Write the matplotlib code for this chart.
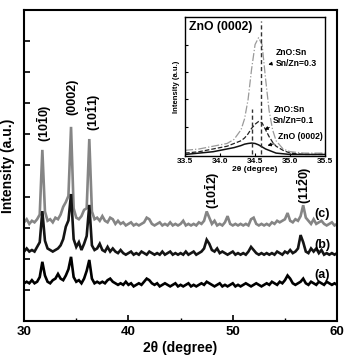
import numpy as np
import matplotlib
matplotlib.use("Agg")
from matplotlib import pyplot as plt

plt.rcParams['font.family'] = ['Liberation Sans', 'DejaVu Sans']
plt.rcParams['font.weight'] = 'bold'
plt.rcParams['mathtext.fontset'] = 'custom'
plt.rcParams['mathtext.rm'] = 'Liberation Sans:bold'
plt.rcParams['mathtext.bf'] = 'Liberation Sans:bold'
plt.rcParams['mathtext.default'] = 'bf'

# main XRD patterns, 2theta from 30 to 60 in 0.25 deg steps (intensity above each baseline)
two_theta = np.arange(30.0, 60.001, 0.25)
pattern_c = [1.5, 2.5, 1.0, 2.0, 1.5, 2.5, 4.0, 24.8, 5.0, 2.0,
             2.5, 1.5, 3.0, 2.5, 4.0, 6.5, 8.0, 10.0, 32.2, 6.0,
             3.0, 2.5, 3.5, 5.5, 6.0, 28.3, 5.0, 2.5, 3.0, 2.0,
             3.5, 2.0, 1.5, 3.0, 2.5, 1.0, 2.0, 1.0, 1.5, 0.5,
             1.0, 1.5, 0.5, 1.0, 0.5, 1.0, 1.5, 3.0, 2.5, 1.0,
             0.5, 1.0, 1.5, 0.5, 1.0, 0.5, 1.5, 0.5, 1.0, 0.5,
             1.0, 2.0, 0.5, 1.0, 0.5, 1.0, 0.5, 1.5, 1.0, 2.0,
             5.0, 3.0, 1.0, 2.0, 0.5, 1.0, 0.5, 1.5, 3.5, 1.0,
             0.5, 1.0, 0.5, 1.0, 0.5, 1.0, 0.5, 2.5, 3.0, 1.0,
             0.5, 1.0, 0.5, 1.0, 0.5, 1.5, 1.0, 2.0, 1.5, 2.0,
             2.5, 4.5, 2.0, 1.5, 2.5, 2.0, 3.5, 7.0, 3.0, 2.0,
             1.0, 2.5, 1.0, 1.5, 2.0, 1.0, 0.5, 1.0, 1.5, 0.5,
             1.0]
pattern_b = [2.0, 3.0, 2.0, 2.5, 2.0, 3.5, 5.0, 15.0, 5.5, 3.0,
             2.5, 2.0, 2.5, 3.0, 4.0, 6.0, 10.0, 12.0, 20.5, 6.0,
             3.5, 5.0, 2.5, 4.5, 7.0, 17.0, 4.0, 2.5, 3.0, 4.5,
             2.5, 2.0, 3.5, 2.0, 3.0, 2.0, 1.5, 2.5, 1.5, 1.0,
             1.5, 2.0, 1.0, 1.5, 1.0, 2.0, 1.5, 1.0, 2.0, 1.5,
             1.0, 1.5, 1.0, 2.0, 1.0, 1.5, 2.0, 1.0, 1.5, 1.0,
             1.5, 1.0, 2.0, 1.0, 1.5, 2.0, 1.0, 1.5, 2.0, 3.0,
             5.8, 4.5, 2.5, 2.0, 3.0, 1.5, 2.0, 1.5, 1.0, 1.5,
             2.0, 1.0, 1.5, 1.0, 1.5, 1.0, 2.0, 3.5, 2.5, 1.5,
             1.0, 1.5, 1.0, 1.5, 1.0, 1.5, 1.0, 2.0, 1.5, 1.0,
             2.0, 1.5, 2.5, 1.5, 2.0, 3.0, 7.3, 5.0, 2.0, 1.5,
             3.0, 2.0, 3.0, 1.5, 2.5, 1.0, 1.5, 1.0, 1.5, 1.0,
             1.5]
pattern_a = [1.5, 2.0, 1.5, 2.5, 1.5, 2.0, 3.5, 8.4, 4.0, 2.0,
             1.5, 2.5, 3.0, 4.5, 3.0, 2.5, 4.0, 6.0, 10.0, 3.5,
             2.0, 2.5, 1.5, 3.0, 5.5, 9.0, 3.0, 1.5, 2.0, 1.5,
             2.0, 1.5, 2.5, 3.0, 2.0, 1.5, 1.0, 1.5, 1.0, 2.0,
             1.0, 1.5, 0.5, 1.0, 1.5, 1.0, 2.0, 3.0, 2.5, 1.5,
             1.0, 1.5, 0.5, 1.0, 1.5, 1.0, 0.5, 1.0, 1.5, 0.5,
             1.0, 0.5, 1.0, 1.5, 0.5, 1.0, 0.5, 1.0, 1.5, 1.0,
             2.0, 1.5, 1.0, 0.5, 1.0, 1.5, 0.5, 1.0, 0.5, 1.0,
             1.5, 0.5, 1.0, 0.5, 1.0, 1.5, 1.0, 0.5, 1.0, 1.5,
             1.0, 0.5, 1.0, 1.5, 1.0, 2.0, 1.5, 1.0, 2.0, 1.5,
             2.5, 4.0, 3.0, 1.5, 1.0, 1.5, 2.0, 3.0, 1.5, 1.0,
             2.0, 1.5, 1.0, 2.0, 1.5, 1.0, 2.0, 1.5, 1.0, 1.5,
             1.0]
offsets = {"a": 10.6, "b": 20.3, "c": 30.2}

peak_labels = [r"(10$\bar{1}$0)", "(0002)", r"(10$\bar{1}$1)", r"(10$\bar{1}$2)", r"(11$\bar{2}$0)"]
peak_label_pos = [(32.0, 63.7), (34.6, 72.0), (36.7, 67.0), (48.1, 42.0), (56.9, 43.5)]

# inset: ZnO (0002) peak region
inset_x = [33.5, 33.7, 33.9, 34.0, 34.1, 34.2, 34.3, 34.35, 34.4, 34.45, 34.5,
           34.55, 34.6, 34.65, 34.7, 34.75, 34.8, 34.9, 35.0, 35.2, 35.5]
inset_sn03 = [0.03, 0.04, 0.06, 0.07, 0.08, 0.11, 0.18, 0.26, 0.40, 0.62, 0.80,
              0.85, 0.80, 0.55, 0.32, 0.18, 0.10, 0.04, 0.02, 0.01, 0.01]
inset_sn01 = [0.01, 0.02, 0.04, 0.05, 0.06, 0.08, 0.10, 0.12, 0.15, 0.19, 0.22,
              0.24, 0.23, 0.18, 0.13, 0.09, 0.06, 0.03, 0.01, 0.0, 0.0]
inset_zno = [0.0, 0.01, 0.02, 0.03, 0.04, 0.05, 0.065, 0.075, 0.08, 0.083, 0.08,
             0.07, 0.055, 0.04, 0.03, 0.02, 0.01, 0.005, 0.0, 0.0, 0.0]
ref_lines = [(34.45, 0.33), (34.59, 0.97)]

fig = plt.figure(figsize=(3.44, 3.55), dpi=100)
ax = fig.add_axes([0.07, 0.096, 0.91, 0.876])

ax.plot(two_theta, np.array(pattern_c) + offsets["c"], color="#858585", lw=1.9, solid_joinstyle="miter")
ax.plot(two_theta, np.array(pattern_b) + offsets["b"], color="#141414", lw=1.9, solid_joinstyle="miter")
ax.plot(two_theta, np.array(pattern_a) + offsets["a"], color="#000000", lw=1.9, solid_joinstyle="miter")

for lab, (px, py) in zip(peak_labels, peak_label_pos):
    ax.text(px, py, lab, rotation=90, ha="center", va="center", fontsize=9, fontweight="bold")
for key in ["c", "b", "a"]:
    ax.text(58.6, offsets[key] + 4.1, "(%s)" % key, ha="center", va="center", fontsize=9, fontweight="bold")

ax.set_xlim(30, 60)
ax.set_ylim(0, 100)
ax.set_xticks([30, 40, 50, 60])
ax.set_xticks([35, 45, 55], minor=True)
ax.set_yticks(np.arange(10, 100, 10))
ax.set_yticklabels([])
ax.tick_params(direction="in", length=4, width=1.2, labelsize=9.5)
ax.tick_params(which="minor", direction="in", length=2.5, width=1.0)
for lbl in ax.get_xticklabels():
    lbl.set_fontweight("bold")
for sp in ax.spines.values():
    sp.set_linewidth(1.5)
ax.set_xlabel("2θ (degree)", fontsize=10, fontweight="bold", labelpad=2)
ax.set_ylabel("Intensity (a.u.)", fontsize=10, fontweight="bold", labelpad=3)

ins = fig.add_axes([0.538, 0.561, 0.407, 0.391])
ins.plot(inset_x, inset_sn03, color="#9a9a9a", lw=0.9, ls="-.")
ins.plot(inset_x, inset_sn01, color="#222222", lw=0.9, ls="--")
ins.plot(inset_x, inset_zno, color="#111111", lw=1.1, ls="-")
for xv, top in ref_lines:
    ins.plot([xv, xv], [0, top], color="#333333", lw=1.0, ls=(0, (3, 2)))
ins.set_xlim(33.5, 35.5)
ins.set_ylim(-0.01, 1.0)
ins.set_xticks([33.5, 34.0, 34.5, 35.0, 35.5])
ins.set_xticklabels(["33.5", "34.0", "34.5", "35.0", "35.5"])
ins.set_yticks([0.2, 0.4, 0.6, 0.8])
ins.set_yticklabels([])
ins.tick_params(direction="in", length=2, width=0.8, labelsize=6, pad=1.5)
for lbl in ins.get_xticklabels():
    lbl.set_fontweight("bold")
for sp in ins.spines.values():
    sp.set_linewidth(1.0)
ins.set_xlabel("2θ (degree)", fontsize=6, fontweight="bold", labelpad=1)
ins.set_ylabel("Intensity (a.u.)", fontsize=5.5, fontweight="bold", labelpad=2)
ins.text(33.55, 0.93, "ZnO (0002)", fontsize=8.8, fontweight="bold", ha="left", va="center")

ins.annotate("ZnO:Sn\nSn/Zn=0.3", xy=(34.65, 0.65), xytext=(34.79, 0.7),
             fontsize=6.2, fontweight="bold", ha="left", va="center", linespacing=1.3,
             arrowprops=dict(arrowstyle="-|>", color="black", lw=0.7, mutation_scale=5, shrinkA=1))
ins.annotate("ZnO:Sn\nSn/Zn=0.1", xy=(34.6, 0.17), xytext=(34.76, 0.29),
             fontsize=6.2, fontweight="bold", ha="left", va="center", linespacing=1.3,
             arrowprops=dict(arrowstyle="-|>", color="black", lw=0.7, mutation_scale=5, shrinkA=1))
ins.annotate("ZnO (0002)", xy=(34.64, 0.06), xytext=(34.83, 0.13),
             fontsize=6.2, fontweight="bold", ha="left", va="center",
             arrowprops=dict(arrowstyle="-|>", color="black", lw=0.7, mutation_scale=5, shrinkA=1))

fig.savefig("out.png", dpi=100)
